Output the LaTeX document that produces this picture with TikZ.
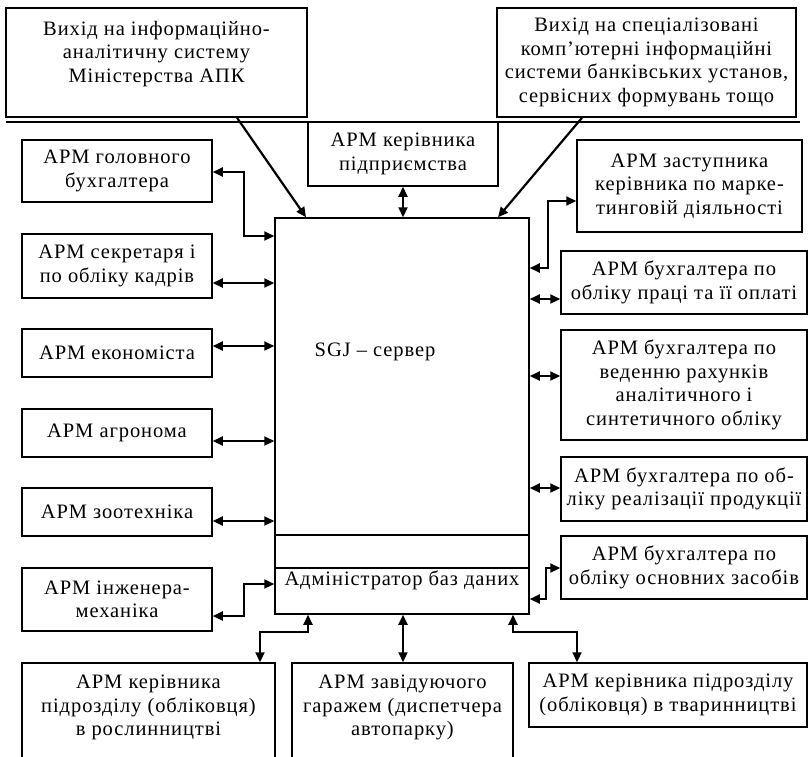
\documentclass[tikz,border=0pt]{standalone}
\usepackage{fontspec}
\setmainfont{Liberation Serif}[LetterSpace=4.5]
\usetikzlibrary{arrows.meta}
\begin{document}
\begin{tikzpicture}[x=1pt,y=-1pt,
  box/.style={draw, line width=1.5pt, inner sep=0pt, align=center},
  txt/.style={inner sep=0pt, align=center},
  darr/.style={line width=2.2pt, line join=miter, {Triangle[length=10pt,width=9pt]}-{Triangle[length=10pt,width=9pt]}},
  sarr/.style={line width=2.2pt, line join=miter, -{Triangle[length=10pt,width=9pt]}},
  font=\fontsize{20.5}{23.5}\selectfont]
\useasboundingbox (0,0) rectangle (809,756);
\clip (0,0) rectangle (809,756);
% top boxes
\node[box, minimum width=301pt, minimum height=109pt] (tl) at (156.5,62.5) {};
\node[txt] (tlt) at (156.5,54) {Вихід на інформаційно-\\аналітичну систему\\Міністерства АПК};
\node[box, minimum width=299pt, minimum height=109pt] (tr) at (646.5,62.5) {Вихід на спеціалізовані\\комп’ютерні інформаційні\\системи банківських установ,\\сервісних формувань тощо};
\coordinate (h1) at (6,121.5);
\coordinate (h2) at (800,121.5);
\draw[line width=2pt] (h1) -- (h2);
\node[box, minimum width=190pt, minimum height=64pt] (kp) at (403,154) {АРМ керівника\\підприємства};
% server
\node[box, minimum width=254pt, minimum height=396pt] (srv) at (402,416) {};
\coordinate (d1) at (0,535);
\coordinate (d2) at (0,568);
\draw[line width=1.5pt] (srv.west |- d1) -- (srv.east |- d1);
\draw[line width=1.5pt] (srv.west |- d2) -- (srv.east |- d2);
\node[txt] (srvt) at (375,352) {SGJ – сервер};
\node[txt] (adm) at (402,580) {Адміністратор баз даних};
% left boxes
\node[box, minimum width=190pt, minimum height=62pt] (L1) at (117,171) {АРМ головного\\бухгалтера};
\node[box, minimum width=190pt, minimum height=64pt] (L2) at (117,266) {АРМ секретаря і\\по обліку кадрів};
\node[box, minimum width=190pt, minimum height=48pt] (L3) at (117,353) {АРМ економіста};
\node[box, minimum width=190pt, minimum height=48pt] (L4) at (117,433) {АРМ агронома};
\node[box, minimum width=190pt, minimum height=48pt] (L5) at (117,512) {АРМ зоотехніка};
\node[box, minimum width=190pt, minimum height=63pt] (L6) at (117,599.5) {АРМ інженера-\\механіка};
% right boxes
\node[box, minimum width=225pt, minimum height=92pt] (R1) at (689.5,186) {АРМ заступника\\керівника по марке-\\тинговій діяльності};
\node[box, minimum width=246pt, minimum height=63pt] (R2) at (684,282.5) {АРМ бухгалтера по\\обліку праці та її оплаті};
\node[box, minimum width=246pt, minimum height=110pt] (R3) at (684,385) {АРМ бухгалтера по\\веденню рахунків\\аналітичного і\\синтетичного обліку};
\node[box, minimum width=246pt, minimum height=64pt] (R4) at (684,489) {АРМ бухгалтера по об-\\ліку реалізації продукції};
\node[box, minimum width=246pt, minimum height=63pt] (R5) at (684,567.5) {АРМ бухгалтера по\\обліку основних засобів};
% bottom boxes
\node[box, minimum width=253pt, minimum height=100pt] (B1) at (148.5,713) {};
\node[txt, anchor=north] (B1t) at (148.5,675) {АРМ керівника\\підрозділу (обліковця)\\в рослинництві};
\node[box, minimum width=221pt, minimum height=100pt] (B2) at (402.5,713) {};
\node[txt, anchor=north] (B2t) at (402.5,675) {АРМ завідуючого\\гаражем (диспетчера\\автопарку)};
\node[box, minimum width=278pt, minimum height=64pt] (B3) at (668,695) {АРМ керівника підрозділу\\(обліковця) в тваринництві};
% connectors top
\coordinate (a1) at (237,0);
\coordinate (a2) at (306,0);
\coordinate (a3) at (582,0);
\coordinate (a4) at (498,0);
\draw[sarr] (tl.south -| a1) -- (srv.north -| a2);
\draw[sarr] (tr.south -| a3) -- (srv.north -| a4);
\draw[darr] (kp.south) -- (kp.south |- srv.north);
% left connectors
\coordinate (b1) at (244,236);
\coordinate (b1b) at (244,172);
\draw[darr] (L1.east |- b1b) -- (b1b) -- (b1) -- (srv.west |- b1);
\coordinate (y2) at (0,283);
\coordinate (y3) at (0,346);
\coordinate (y4) at (0,441);
\coordinate (y5) at (0,521);
\draw[darr] (L2.east |- y2) -- (srv.west |- y2);
\draw[darr] (L3.east |- y3) -- (srv.west |- y3);
\draw[darr] (L4.east |- y4) -- (srv.west |- y4);
\draw[darr] (L5.east |- y5) -- (srv.west |- y5);
\coordinate (b6) at (244,584);
\coordinate (b6b) at (244,616);
\draw[darr] (L6.east |- b6b) -- (b6b) -- (b6) -- (srv.west |- b6);
% right connectors
\coordinate (r1) at (548,201);
\coordinate (r1b) at (548,268);
\draw[darr] (R1.west |- r1) -- (r1) -- (r1b) -- (srv.east |- r1b);
\coordinate (y6) at (0,299);
\coordinate (y7) at (0,376);
\coordinate (y8) at (0,488);
\draw[darr] (R2.west |- y6) -- (srv.east |- y6);
\draw[darr] (R3.west |- y7) -- (srv.east |- y7);
\draw[darr] (R4.west |- y8) -- (srv.east |- y8);
\coordinate (r5) at (546,568);
\coordinate (r5b) at (546,599);
\draw[darr] (R5.west |- r5) -- (r5) -- (r5b) -- (srv.east |- r5b);
% bottom connectors
\coordinate (c1) at (308,632);
\coordinate (c1b) at (260,632);
\draw[darr] (srv.south -| c1) -- (c1) -- (c1b) -- (B1.north -| c1b);
\draw[darr] (B2.north -| kp.south) -- (srv.south -| kp.south);
\coordinate (c3) at (513,632);
\coordinate (c3b) at (577,632);
\draw[darr] (srv.south -| c3) -- (c3) -- (c3b) -- (B3.north -| c3b);
\end{tikzpicture}
\end{document}
